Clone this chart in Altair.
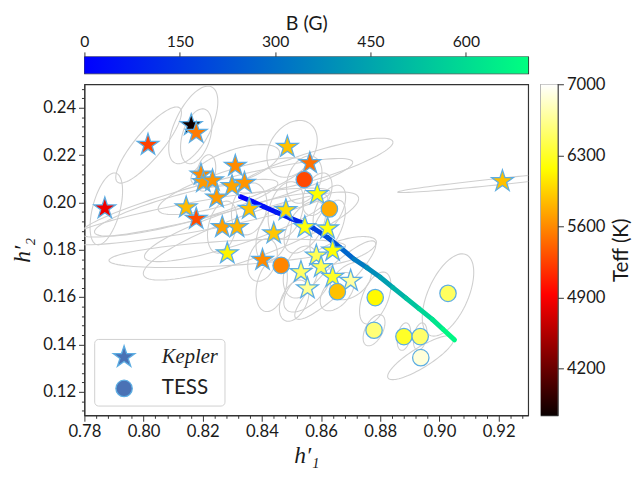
import math
import altair as alt
import pandas as pd

# ---------------- data ----------------
kep_h1 = [0.8015, 0.8161, 0.8178, 0.7869, 0.8194, 0.8202, 0.8233, 0.8310, 0.8299, 0.8341,
          0.8247, 0.8144, 0.8178, 0.8357, 0.8266, 0.8316, 0.8440, 0.8486, 0.8562, 0.8587,
          0.8481, 0.8545, 0.8622, 0.8283, 0.8402, 0.8639, 0.8584, 0.8532, 0.8600, 0.8639,
          0.8700, 0.8554, 0.9213]
kep_h2 = [0.2244, 0.2327, 0.2294, 0.1975, 0.2118, 0.2086, 0.2093, 0.2155, 0.2069, 0.2083,
          0.2021, 0.1979, 0.1931, 0.1973, 0.1896, 0.1896, 0.1869, 0.2235, 0.2166, 0.2035,
          0.1968, 0.1896, 0.1890, 0.1785, 0.1757, 0.1796, 0.1775, 0.1706, 0.1727, 0.1685,
          0.1669, 0.1637, 0.2090]
kep_teff = [5250, 3760, 5530, 4850, 5600, 5680, 5650, 5600, 5730, 5650,
            5680, 5840, 5300, 5870, 5700, 5800, 5900, 5870, 5470, 6170,
            6000, 6200, 6220, 6120, 5600, 6190, 6450, 6500, 6450, 6300,
            6700, 6650, 5870]

tess_h1 = [0.8543, 0.8628, 0.8465, 0.8655, 0.8783, 0.9029, 0.8779, 0.8880, 0.8935, 0.8937]
tess_h2 = [0.2097, 0.1973, 0.1734, 0.1623, 0.1598, 0.1616, 0.1460, 0.1433, 0.1433, 0.1344]
tess_teff = [5280, 5760, 5580, 5870, 6150, 6480, 6560, 6300, 6520, 6880]

# model track, coloured by field strength B (G)
line_h1 = [0.8328, 0.8366, 0.8407, 0.8449, 0.8495, 0.8535, 0.8573, 0.8622, 0.8664, 0.8711,
           0.8754, 0.8799, 0.8843, 0.8887, 0.8931, 0.8976, 0.9012, 0.9051]
line_h2 = [0.2024, 0.2005, 0.1982, 0.1959, 0.1934, 0.1914, 0.1892, 0.1852, 0.1810, 0.1761,
           0.1725, 0.1685, 0.1640, 0.1596, 0.1551, 0.1506, 0.1464, 0.1419]
line_B = [0, 15, 35, 60, 90, 120, 150, 200, 250, 310, 360, 410, 460, 510, 560, 605, 650, 698]

# error ellipses: centre, sigma_x, sigma_y, correlation
ell_h1 = [0.7874, 0.8017, 0.8168, 0.8178, 0.8211, 0.8247, 0.8144, 0.8313, 0.8363, 0.8283,
          0.9213, 0.9029, 0.8783, 0.8779, 0.8880, 0.8935, 0.8937, 0.8655, 0.8648, 0.8578,
          0.8502, 0.8433, 0.8509, 0.8587, 0.8628, 0.8543, 0.8545, 0.8622, 0.8677, 0.8532,
          0.8554, 0.8700, 0.8481, 0.8357, 0.8440, 0.8402, 0.8266, 0.8299, 0.8310, 0.8181]
ell_h2 = [0.1973, 0.2243, 0.2328, 0.2280, 0.2125, 0.2020, 0.1978, 0.1895, 0.1858, 0.1785,
          0.2090, 0.1609, 0.1596, 0.1460, 0.1433, 0.1433, 0.1344, 0.1623, 0.1672, 0.2156,
          0.2227, 0.1651, 0.1585, 0.2035, 0.1973, 0.2097, 0.1896, 0.1890, 0.1796, 0.1706,
          0.1637, 0.1669, 0.1968, 0.1973, 0.1869, 0.1757, 0.1896, 0.2069, 0.2155, 0.1941]
ell_sx = [0.0055, 0.0111, 0.0083, 0.0053, 0.0033, 0.0460, 0.0310, 0.0310, 0.0364, 0.0400,
          0.0354, 0.0087, 0.0053, 0.0037, 0.0023, 0.0023, 0.0112, 0.0058, 0.0137, 0.0265,
          0.0085, 0.0053, 0.0050, 0.0050, 0.0055, 0.0060, 0.0070, 0.0060, 0.0110, 0.0060,
          0.0080, 0.0070, 0.0060, 0.0060, 0.0060, 0.0050, 0.0050, 0.0250, 0.0150, 0.0450]
ell_sy = [0.0152, 0.0161, 0.0164, 0.0116, 0.0077, 0.0166, 0.0120, 0.0145, 0.0186, 0.0060,
          0.0048, 0.0174, 0.0110, 0.0066, 0.0058, 0.0058, 0.0093, 0.0081, 0.0166, 0.0116,
          0.0120, 0.0112, 0.0087, 0.0090, 0.0100, 0.0100, 0.0110, 0.0120, 0.0060, 0.0110,
          0.0100, 0.0080, 0.0120, 0.0110, 0.0120, 0.0090, 0.0110, 0.0120, 0.0090, 0.0120]
ell_rho = [0.50, 0.85, 0.60, 0.40, 0.30, 0.90, 0.85, 0.85, 0.85, 0.50,
           0.96, 0.55, 0.50, 0.50, 0.30, 0.30, 0.85, 0.50, 0.90, 0.85,
           0.30, 0.30, 0.40, 0.40, 0.50, 0.30, 0.50, 0.60, 0.60, 0.30,
           0.60, 0.40, 0.30, 0.20, 0.40, 0.30, 0.30, 0.80, 0.60, 0.85]

# axis / colour bar ranges and ticks
H1_RANGE = [0.78, 0.93]
H2_RANGE = [0.11, 0.25]
B_RANGE = [0, 698]
TEFF_RANGE = [3740, 7000]
B_TICKS = [0, 150, 300, 450, 600]
TEFF_TICKS = [4200, 4900, 5600, 6300, 7000]
H1_TICKS = [round(0.78 + 0.004 * i, 3) for i in range(38)]
H2_TICKS = [round(0.112 + 0.004 * i, 3) for i in range(35)]

# ---------------- tables ----------------
pts = pd.DataFrame({
    "h1": kep_h1 + tess_h1,
    "h2": kep_h2 + tess_h2,
    "teff": kep_teff + tess_teff,
    "mission": ["Kepler"] * len(kep_h1) + ["TESS"] * len(tess_h1),
})

seg = pd.DataFrame({
    "h1": line_h1[:-1], "h2": line_h2[:-1],
    "h1b": line_h1[1:], "h2b": line_h2[1:],
    "B": [(a + b) / 2 for a, b in zip(line_B[:-1], line_B[1:])],
})

rows = []
for i, (cx, cy, sx, sy, r) in enumerate(zip(ell_h1, ell_h2, ell_sx, ell_sy, ell_rho)):
    q = math.sqrt(1 - r * r)
    for k in range(97):
        t = 2 * math.pi * k / 96
        rows.append({"eid": i, "k": k,
                     "h1": cx + sx * math.cos(t),
                     "h2": cy + sy * (r * math.cos(t) + q * math.sin(t))})
ell = pd.DataFrame(rows)

bar_b = pd.DataFrame({"lo": [B_RANGE[0]], "hi": [B_RANGE[1]]})
bar_t = pd.DataFrame({"lo": [TEFF_RANGE[0]], "hi": [TEFF_RANGE[1]]})

# ---------------- styling ----------------
FONT = "Lato"
MATH = "Liberation Serif, DejaVu Serif"
INK = "#1a1a1a"
STAR = ("M0,-1L0.2245,-0.309L0.951,-0.309L0.3633,0.118L0.588,0.809L0,0.382"
        "L-0.588,0.809L-0.3633,0.118L-0.951,-0.309L-0.2245,-0.309Z")
MAJ = "abs(datum.value*50 - round(datum.value*50)) < 0.01"
common = dict(grid=False, labelFont=FONT, labelFontSize=17, labelColor=INK, titleColor=INK,
              domainColor="#333333", tickColor="#333333", titleFontWeight="normal")

xs = alt.Scale(domain=H1_RANGE, nice=False, zero=False)
ys = alt.Scale(domain=H2_RANGE, nice=False, zero=False)
xaxis = alt.Axis(values=H1_TICKS, labelExpr=f"{MAJ} ? format(datum.value, '.2f') : ''",
                 tickSize={"condition": {"test": MAJ, "value": 6}, "value": 3},
                 title="h′₁", titleFont=MATH, titleFontStyle="italic", titleFontSize=24,
                 labelPadding=3, titlePadding=4, labelOverlap=False, labelFlush=False,
                 **common)
yaxis = alt.Axis(values=H2_TICKS, labelExpr=f"{MAJ} ? format(datum.value, '.2f') : ''",
                 tickSize={"condition": {"test": MAJ, "value": 6}, "value": 3},
                 title="h′₂", titleFont=MATH, titleFontStyle="italic", titleFontSize=24,
                 labelPadding=3, titlePadding=8, labelOverlap=False, **common)

X = alt.X("h1:Q", scale=xs, axis=xaxis)
Y = alt.Y("h2:Q", scale=ys, axis=yaxis)

ell_layer = alt.Chart(ell).mark_line(stroke="#cfcfcf", strokeWidth=1.1, clip=True).encode(
    x=X, y=Y, detail="eid:N", order="k:Q")

track = alt.Chart(seg).mark_rule(strokeWidth=5, strokeCap="round", clip=True).encode(
    x=X, y=Y, x2="h1b:Q", y2="h2b:Q",
    stroke=alt.Stroke("B:Q", scale=alt.Scale(domain=B_RANGE, range=["#0000ff", "#00ff80"],
                                             interpolate="rgb"),
                      legend=None))

leg = alt.Legend(title=None, orient="bottom-left", offset=10, padding=6,
                 strokeColor="#d0d0d0", fillColor="white", cornerRadius=4,
                 labelFont=alt.ExprRef(expr="datum.label == 'Kepler' ? 'Liberation Serif' : 'Lato'"),
                 labelFontStyle=alt.ExprRef(expr="datum.label == 'Kepler' ? 'italic' : 'normal'"),
                 labelFontSize=21, labelColor="#222222", labelOffset=26, symbolOffset=12,
                 rowPadding=8, symbolFillColor="#4a72b5", symbolStrokeColor="#5dade2",
                 symbolStrokeWidth=1.3, symbolOpacity=1)

marks = alt.Chart(pts).mark_point(filled=True, stroke="#5dade2", strokeWidth=1.3,
                                  fillOpacity=1, strokeOpacity=1, opacity=1).encode(
    x=X, y=Y,
    fill=alt.Fill("teff:Q", scale=alt.Scale(domain=[3740, 4930, 6172, 7000],
                                            range=["#0b0000", "#ff0000", "#ffff00", "#ffffff"],
                                            interpolate="rgb"),
                  legend=None),
    shape=alt.Shape("mission:N", scale=alt.Scale(domain=["Kepler", "TESS"], range=[STAR, "circle"]),
                    legend=leg),
    size=alt.Size("mission:N", scale=alt.Scale(domain=["Kepler", "TESS"], range=[540, 280]),
                  legend=leg),
)

main = alt.layer(ell_layer, track, marks).properties(
    width=453, height=338, view=alt.ViewBackground(stroke="#333333", strokeWidth=1.2))

bbar = alt.Chart(bar_b).mark_rect(
    fill=alt.Gradient(gradient="linear", x1=0, x2=1, y1=0, y2=0,
                      stops=[alt.GradientStop(offset=0, color="#0000ff"),
                             alt.GradientStop(offset=1, color="#00ff80")])).encode(
    x=alt.X("lo:Q", scale=alt.Scale(domain=B_RANGE, nice=False, zero=False),
            axis=alt.Axis(orient="top", values=B_TICKS, title="B (G)", titleFont=FONT,
                          titleFontSize=20, tickSize=5, labelFlush=False,
                          labelPadding=3, titlePadding=0, format="d",
                          **{**common, "labelFontSize": 16})),
    x2="hi:Q", y=alt.value(0), y2=alt.value(17)).properties(
    width=453, height=17, view=alt.ViewBackground(stroke="#333333", strokeWidth=1.2))

tbar = alt.Chart(bar_t).mark_rect(
    fill=alt.Gradient(gradient="linear", x1=0, x2=0, y1=1, y2=0,
                      stops=[alt.GradientStop(offset=0, color="#0b0000"),
                             alt.GradientStop(offset=0.365, color="#ff0000"),
                             alt.GradientStop(offset=0.746, color="#ffff00"),
                             alt.GradientStop(offset=1, color="#ffffff")])).encode(
    y=alt.Y("lo:Q", scale=alt.Scale(domain=TEFF_RANGE, nice=False, zero=False),
            axis=alt.Axis(orient="right", values=TEFF_TICKS, title="Teff (K)", titleFont=FONT,
                          titleFontSize=21, titleAngle=270, titleBaseline="top",
                          tickSize=6, labelPadding=3, titlePadding=6, format="d", **common)),
    y2="hi:Q", x=alt.value(0), x2=alt.value(17)).properties(
    width=17, height=338, view=alt.ViewBackground(stroke="#333333", strokeWidth=1.2))

spacer = alt.Chart(bar_b).mark_point(opacity=0).encode(
    x=alt.X("lo:Q", axis=None), y=alt.Y("hi:Q", axis=None)).properties(
    width=5, height=5, view=alt.ViewBackground(strokeOpacity=0))

chart = alt.concat(bbar, spacer, main, tbar, columns=2, align="each",
                   spacing={"row": 0, "column": 11}).resolve_scale(
    x="independent", y="independent", shape="independent", size="independent",
    fill="independent", stroke="independent").resolve_legend(
    shape="independent", size="independent").properties(
    background="white",
    padding={"left": 2, "top": 0, "right": 0, "bottom": 0})

chart.save("out.html", embed_options={"renderer": "svg", "actions": False})
